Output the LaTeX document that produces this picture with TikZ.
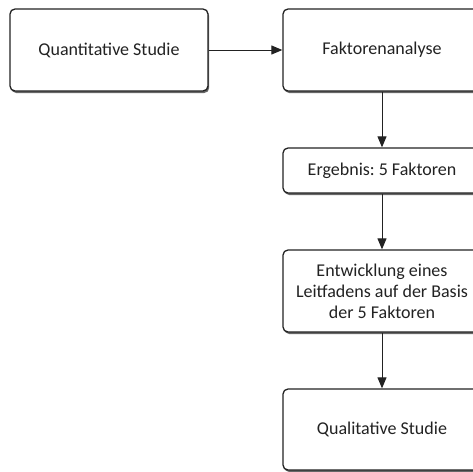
\documentclass[tikz,border=0pt]{standalone}
\usepackage{fontspec}
\setmainfont{Carlito}
\frenchspacing
\usetikzlibrary{shadows,arrows.meta}
\definecolor{ink}{HTML}{222222}
\tikzset{
  box/.style={draw=ink, line width=1.3pt, rounded corners=5pt, fill=white,
    minimum width=198pt, inner sep=0pt, align=center, text=ink,
    font=\fontsize{18}{21}\selectfont,
    drop shadow={shadow xshift=1.2pt, shadow yshift=-2pt, opacity=0.7, fill=black!85}},
  arr/.style={draw=ink, line width=1pt, -{Triangle[length=11pt,width=9pt]}}
}
\begin{document}
\begin{tikzpicture}[x=1pt,y=-1pt]
\useasboundingbox (0,0) rectangle (473,471);
\clip (0,0) rectangle (473,471);
\node[box, minimum height=82pt] (q) at (109,50) {Quantitative Studie};
\node[box, minimum height=82pt] (f) at (382,50) {Faktorenanalyse};
\node[box, minimum height=45pt] (e) at (382,170.5) {Ergebnis: 5 Faktoren};
\node[box, minimum height=82pt] (l) at (382,291) {Entwicklung eines\\Leitfadens auf der Basis\\der 5 Faktoren};
\node[box, minimum height=81pt] (s) at (382,429.5) {Qualitative Studie};
\draw[arr] (q) -- (f);
\draw[arr] (f) -- (e);
\draw[arr] (e) -- (l);
\draw[arr] (l) -- (s);
\end{tikzpicture}
\end{document}
